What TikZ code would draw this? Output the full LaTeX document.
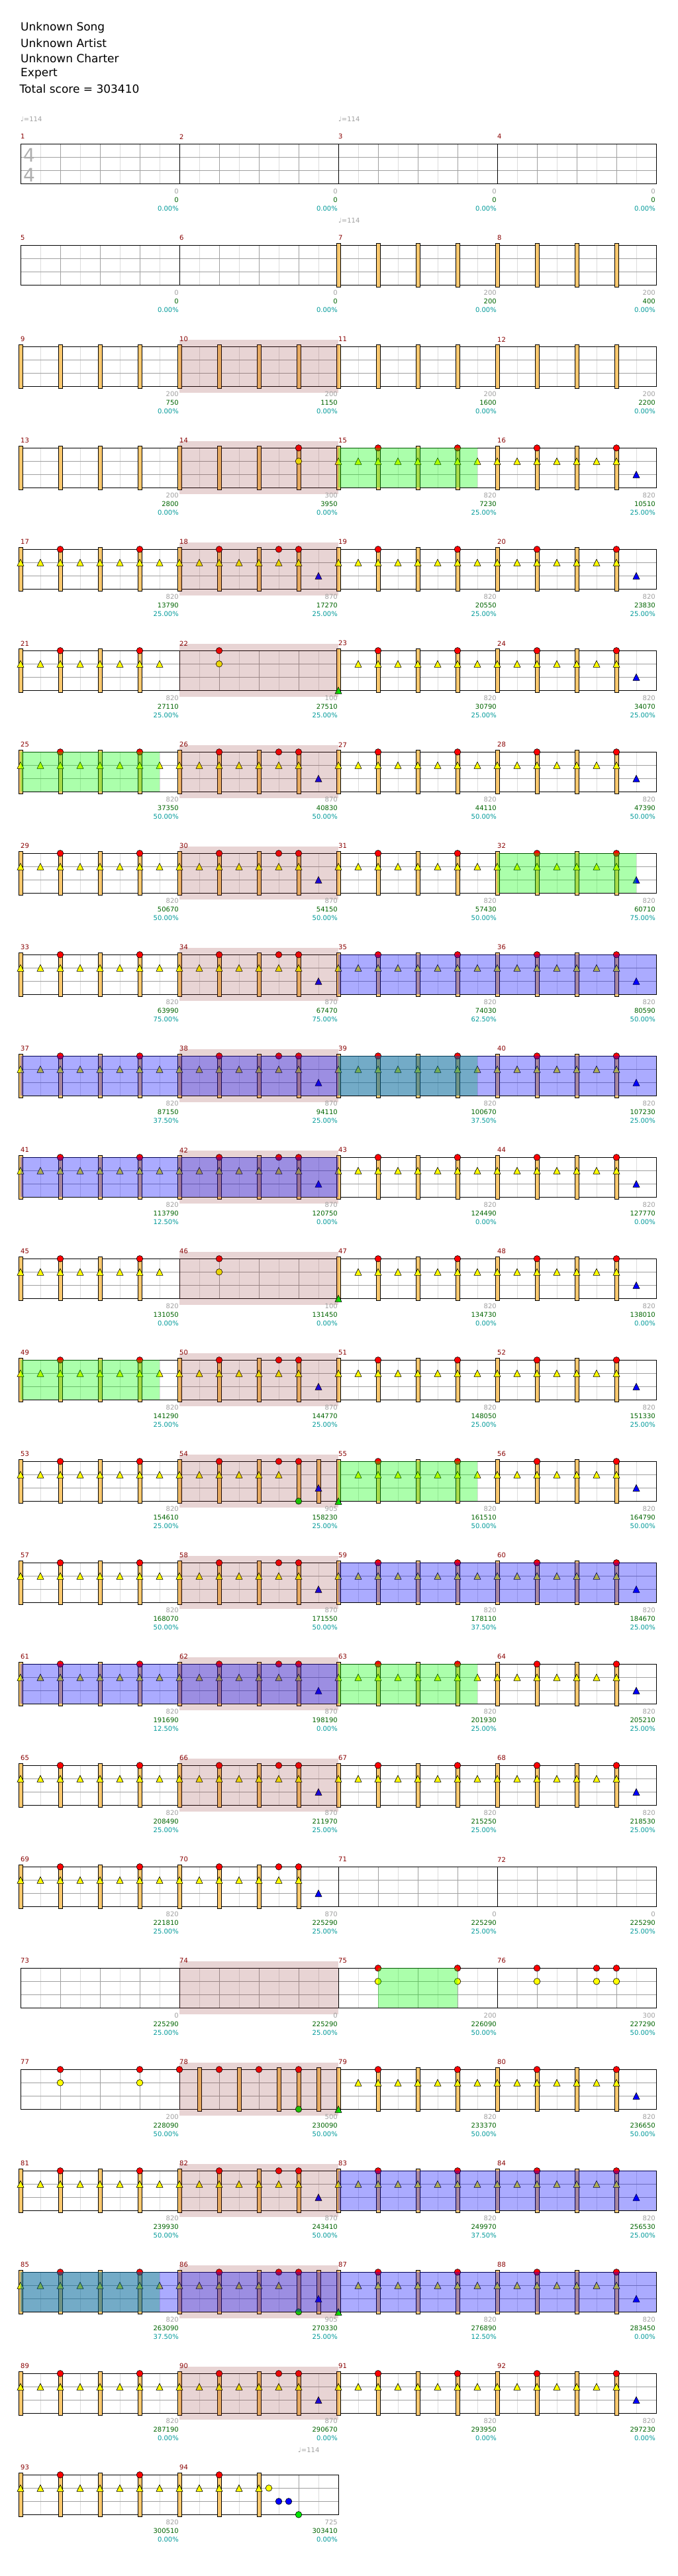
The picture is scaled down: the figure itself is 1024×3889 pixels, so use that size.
\documentclass[tikz,border=0pt]{standalone}
\usepackage{fontspec}
\setmainfont{DejaVu Sans}
\usepackage{tikz}
\usepackage{xcolor}
\definecolor{cmeasure}{RGB}{136,0,0}
\definecolor{cgridlight}{RGB}{220,220,220}
\definecolor{cgrid}{RGB}{160,160,160}
\definecolor{cbar}{RGB}{250,200,110}
\definecolor{cred}{RGB}{255,0,0}
\definecolor{cyellow}{RGB}{255,255,0}
\definecolor{cblue}{RGB}{0,0,255}
\definecolor{cgreen}{RGB}{0,230,0}
\definecolor{cbase}{RGB}{160,160,160}
\definecolor{ctotal}{RGB}{0,100,0}
\definecolor{cpercent}{RGB}{0,153,153}
\definecolor{cfill}{RGB}{140,40,40}
\tikzstyle{eighthline} = [draw=cgridlight, line width=1pt]
\tikzstyle{beatline} = [draw=cgrid, line width=1pt]
\tikzstyle{staffline} = [draw=black, line width=1pt]
\tikzstyle{beatbar} = [fill=cbar, draw=black, line width=0.8pt]
\tikzstyle{hit} = [draw=black, line width=0.6pt]
\tikzstyle{measnum} = [anchor=west, inner sep=0pt, text=cmeasure, font=\fontsize{10}{12}\selectfont]
\tikzstyle{pts} = [anchor=east, inner sep=0pt, font=\fontsize{10}{12}\selectfont]
\tikzstyle{tempo} = [anchor=west, inner sep=0pt, text=cgrid, font=\fontsize{10}{12}\selectfont]
\tikzstyle{header} = [anchor=west, inner sep=0pt, font=\fontsize{17}{20}\selectfont]
\tikzstyle{timesig} = [inner sep=0pt, text=cgrid!85!white, font=\fontsize{28}{30}\selectfont]
\tikzstyle{fillzone} = [fill=cfill, fill opacity=0.2]
\tikzstyle{starzone} = [fill=green, fill opacity=0.33]
\tikzstyle{bonuszone} = [fill=blue, fill opacity=0.33]

% staff of #1 measures, first measure number #2
\newcommand{\staffrow}[2]{%
  \pgfmathtruncatemacro\lastei{8*#1-1}%
  \pgfmathtruncatemacro\lastm{#1-1}%
  \pgfmathsetmacro\staffend{31+240*#1}%
  \foreach \i in {1,...,\lastei} \draw[eighthline] ({31+30*\i},0) -- ++(0,60);
  \foreach \i in {2,4,...,\lastei} \draw[beatline] ({31+30*\i},0) -- ++(0,60);
  \draw[beatline] (31,20) -- (\staffend,20) (31,40) -- (\staffend,40);
  \draw[staffline] (31,0) rectangle (\staffend,60);
  \foreach \j in {1,...,\lastm} \draw[staffline] ({31+240*\j},0) -- ++(0,60);
  \foreach \j in {0,...,\lastm} {\pgfmathtruncatemacro\n{#2+\j}\node[measnum] (m\n) at ({31+240*\j},-11) {\n};}
}
% beat bars, measure #1, eighths #2
\newcommand{\beatbars}[2]{\foreach \i in {#2} \filldraw[beatbar] ({31+240*#1+30*\i-3},-3) rectangle ++(6,66);}
% colour, measure, lane, eighths
\newcommand{\hitgem}[4]{\foreach \i in {#4} \filldraw[hit,fill=#1] ({31+240*#2+30*\i},{20*#3}) circle (4.8pt);}
\newcommand{\hittri}[4]{\foreach \i in {#4} \filldraw[hit,fill=#1] ({31+240*#2+30*\i},{20*#3-5}) -- ++(5,10) -- ++(-10,0) -- cycle;}
\newcommand{\stab}[2]{\hitgem{cred}{#1}{0}{#2}\hitgem{cyellow}{#1}{1}{#2}}
% measure patterns
\newcommand{\groove}[1]{\beatbars{#1}{0,2,4,6}\hittri{cyellow}{#1}{1}{0,...,7}\hitgem{cred}{#1}{0}{2,6}}
\newcommand{\grooveend}[1]{\beatbars{#1}{0,2,4,6}\hittri{cyellow}{#1}{1}{0,...,6}\hitgem{cred}{#1}{0}{2,6}\hittri{cblue}{#1}{2}{7}}
\newcommand{\drumfill}[1]{\beatbars{#1}{0,2,4,6}\hittri{cyellow}{#1}{1}{0,...,6}\hitgem{cred}{#1}{0}{2,5,6}\hittri{cblue}{#1}{2}{7}}
\newcommand{\kickfill}[1]{\beatbars{#1}{0,2,4,6,7}\hittri{cyellow}{#1}{1}{0,...,5}\hitgem{cred}{#1}{0}{2,5,6}\hitgem{cgreen}{#1}{3}{6}\hittri{cblue}{#1}{2}{7}}
\newcommand{\crashin}[1]{\beatbars{#1}{0,2,4,6}\hittri{cgreen}{#1}{3}{0}\hittri{cyellow}{#1}{1}{1,...,7}\hitgem{cred}{#1}{0}{2,6}}
\newcommand{\standard}{\groove{0}\drumfill{1}\groove{2}\grooveend{3}}
% shaded zones
\newcommand{\fillshade}[1]{\fill[fillzone] ({31+240*#1},-10) rectangle ++(240,80);}
\newcommand{\starshade}[3]{\fill[starzone] ({31+240*#1+30*#2},0) rectangle ({31+240*#1+30*#3},60);}
\newcommand{\bonusshade}[2]{\fill[bonuszone] ({31+240*#1},0) rectangle ({31+240*(#2+1)},60);}
% scores under each measure
\newcommand{\rowscores}[2]{\foreach \j/\vbase/\vtot/\vpct in {#2} {%
  \pgfmathtruncatemacro\n{#1+\j}\pgfmathsetmacro\sx{30+240*(\j+1)}%
  \node[pts, text=cbase] (base\n) at (\sx,72) {\vbase};
  \node[pts, text=ctotal] (total\n) at (\sx,85) {\vtot};
  \node[pts, text=cpercent] (pct\n) at (\sx,98) {\vpct\%};}}

\begin{document}
\begin{tikzpicture}[x=1pt, y=-1pt]
\useasboundingbox (0,0) rectangle (1024,3889);
% Chart header
\node[header] (song) at (31,42.3) {Unknown Song};
\node[header] (artist) at (31,65) {Unknown Artist};
\node[header] (charter) at (31,88) {Unknown Charter};
\node[header] (level) at (31,111) {Expert};
\node[header] (total) at (29.5,134.3) {Total score = 303410};

% Measures 1-4
\begin{scope}[shift={(0,217.3)}]
\staffrow{4}{1}
\node[timesig] (sigtop) at (44,17) {4};
\node[timesig] (sigbot) at (44,47) {4};
\node[tempo] (bpm1) at (31,-37) {♩=114};
\node[tempo] (bpm3) at (511,-37) {♩=114};
\rowscores{1}{0/0/0/0.00,1/0/0/0.00,2/0/0/0.00,3/0/0/0.00}
\end{scope}

% Measures 5-8
\begin{scope}[shift={(0,370.3)}]
\staffrow{4}{5}
\node[tempo] (bpm7) at (511,-37) {♩=114};
\beatbars{2}{0,2,4,6}\beatbars{3}{0,2,4,6}
\rowscores{5}{0/0/0/0.00,1/0/0/0.00,2/200/200/0.00,3/200/400/0.00}
\end{scope}

% Measures 9-12
\begin{scope}[shift={(0,523.3)}]
\staffrow{4}{9}
\foreach \k in {0,...,3} {\beatbars{\k}{0,2,4,6}}
\fillshade{1}
\rowscores{9}{0/200/750/0.00,1/200/1150/0.00,2/200/1600/0.00,3/200/2200/0.00}
\end{scope}

% Measures 13-16
\begin{scope}[shift={(0,676.3)}]
\staffrow{4}{13}
\beatbars{0}{0,2,4,6}\beatbars{1}{0,2,4,6}\stab{1}{6}\groove{2}\grooveend{3}
\fillshade{1}\starshade{2}{0}{7}
\rowscores{13}{0/200/2800/0.00,1/300/3950/0.00,2/820/7230/25.00,3/820/10510/25.00}
\end{scope}

% Measures 17-20
\begin{scope}[shift={(0,829.3)}]
\staffrow{4}{17}
\standard
\fillshade{1}
\rowscores{17}{0/820/13790/25.00,1/870/17270/25.00,2/820/20550/25.00,3/820/23830/25.00}
\end{scope}

% Measures 21-24
\begin{scope}[shift={(0,982.3)}]
\staffrow{4}{21}
\groove{0}\stab{1}{2}\crashin{2}\grooveend{3}
\fillshade{1}
\rowscores{21}{0/820/27110/25.00,1/100/27510/25.00,2/820/30790/25.00,3/820/34070/25.00}
\end{scope}

% Measures 25-28
\begin{scope}[shift={(0,1135.3)}]
\staffrow{4}{25}
\standard
\fillshade{1}\starshade{0}{0}{7}
\rowscores{25}{0/820/37350/50.00,1/870/40830/50.00,2/820/44110/50.00,3/820/47390/50.00}
\end{scope}

% Measures 29-32
\begin{scope}[shift={(0,1288.3)}]
\staffrow{4}{29}
\standard
\fillshade{1}\starshade{3}{0}{7}
\rowscores{29}{0/820/50670/50.00,1/870/54150/50.00,2/820/57430/50.00,3/820/60710/75.00}
\end{scope}

% Measures 33-36
\begin{scope}[shift={(0,1441.3)}]
\staffrow{4}{33}
\standard
\fillshade{1}\bonusshade{2}{3}
\rowscores{33}{0/820/63990/75.00,1/870/67470/75.00,2/820/74030/62.50,3/820/80590/50.00}
\end{scope}

% Measures 37-40
\begin{scope}[shift={(0,1594.3)}]
\staffrow{4}{37}
\standard
\fillshade{1}\starshade{2}{0}{7}\bonusshade{0}{3}
\rowscores{37}{0/820/87150/37.50,1/870/94110/25.00,2/820/100670/37.50,3/820/107230/25.00}
\end{scope}

% Measures 41-44
\begin{scope}[shift={(0,1747.3)}]
\staffrow{4}{41}
\standard
\fillshade{1}\bonusshade{0}{1}
\rowscores{41}{0/820/113790/12.50,1/870/120750/0.00,2/820/124490/0.00,3/820/127770/0.00}
\end{scope}

% Measures 45-48
\begin{scope}[shift={(0,1900.3)}]
\staffrow{4}{45}
\groove{0}\stab{1}{2}\crashin{2}\grooveend{3}
\fillshade{1}
\rowscores{45}{0/820/131050/0.00,1/100/131450/0.00,2/820/134730/0.00,3/820/138010/0.00}
\end{scope}

% Measures 49-52
\begin{scope}[shift={(0,2053.3)}]
\staffrow{4}{49}
\standard
\fillshade{1}\starshade{0}{0}{7}
\rowscores{49}{0/820/141290/25.00,1/870/144770/25.00,2/820/148050/25.00,3/820/151330/25.00}
\end{scope}

% Measures 53-56
\begin{scope}[shift={(0,2206.3)}]
\staffrow{4}{53}
\groove{0}\kickfill{1}\crashin{2}\grooveend{3}
\fillshade{1}\starshade{2}{0}{7}
\rowscores{53}{0/820/154610/25.00,1/905/158230/25.00,2/820/161510/50.00,3/820/164790/50.00}
\end{scope}

% Measures 57-60
\begin{scope}[shift={(0,2359.3)}]
\staffrow{4}{57}
\standard
\fillshade{1}\bonusshade{2}{3}
\rowscores{57}{0/820/168070/50.00,1/870/171550/50.00,2/820/178110/37.50,3/820/184670/25.00}
\end{scope}

% Measures 61-64
\begin{scope}[shift={(0,2512.3)}]
\staffrow{4}{61}
\standard
\fillshade{1}\starshade{2}{0}{7}\bonusshade{0}{1}
\rowscores{61}{0/820/191690/12.50,1/870/198190/0.00,2/820/201930/25.00,3/820/205210/25.00}
\end{scope}

% Measures 65-68
\begin{scope}[shift={(0,2665.3)}]
\staffrow{4}{65}
\standard
\fillshade{1}
\rowscores{65}{0/820/208490/25.00,1/870/211970/25.00,2/820/215250/25.00,3/820/218530/25.00}
\end{scope}

% Measures 69-72
\begin{scope}[shift={(0,2818.3)}]
\staffrow{4}{69}
\groove{0}\drumfill{1}
\rowscores{69}{0/820/221810/25.00,1/870/225290/25.00,2/0/225290/25.00,3/0/225290/25.00}
\end{scope}

% Measures 73-76
\begin{scope}[shift={(0,2971.3)}]
\staffrow{4}{73}
\stab{2}{2,6}\stab{3}{2,5,6}
\fillshade{1}\starshade{2}{2}{6}
\rowscores{73}{0/0/225290/25.00,1/0/225290/25.00,2/200/226090/50.00,3/300/227290/50.00}
\end{scope}

% Measures 77-80
\begin{scope}[shift={(0,3124.3)}]
\staffrow{4}{77}
\stab{0}{2,6}
\beatbars{1}{1,3,5,6,7}\hitgem{cred}{1}{0}{0,2,4,6}\hitgem{cgreen}{1}{3}{6}
\crashin{2}\grooveend{3}
\fillshade{1}
\rowscores{77}{0/200/228090/50.00,1/500/230090/50.00,2/820/233370/50.00,3/820/236650/50.00}
\end{scope}

% Measures 81-84
\begin{scope}[shift={(0,3277.3)}]
\staffrow{4}{81}
\standard
\fillshade{1}\bonusshade{2}{3}
\rowscores{81}{0/820/239930/50.00,1/870/243410/50.00,2/820/249970/37.50,3/820/256530/25.00}
\end{scope}

% Measures 85-88
\begin{scope}[shift={(0,3430.3)}]
\staffrow{4}{85}
\groove{0}\kickfill{1}\crashin{2}\grooveend{3}
\fillshade{1}\starshade{0}{0}{7}\bonusshade{0}{3}
\rowscores{85}{0/820/263090/37.50,1/905/270330/25.00,2/820/276890/12.50,3/820/283450/0.00}
\end{scope}

% Measures 89-92
\begin{scope}[shift={(0,3583.3)}]
\staffrow{4}{89}
\standard
\fillshade{1}
\rowscores{89}{0/820/287190/0.00,1/870/290670/0.00,2/820/293950/0.00,3/820/297230/0.00}
\end{scope}

% Measures 93-94
\begin{scope}[shift={(0,3736.3)}]
\staffrow{2}{93}
\node[tempo] (bpm94) at (450,-37) {♩=114};
\groove{0}
\beatbars{1}{0,2,4}\hittri{cyellow}{1}{1}{0,...,4}\hitgem{cred}{1}{0}{2}
\hitgem{cyellow}{1}{1}{4.5}\hitgem{cblue}{1}{2}{5,5.5}\hitgem{cgreen}{1}{3}{6}
\rowscores{93}{0/820/300510/0.00,1/725/303410/0.00}
\end{scope}
\end{tikzpicture}
\end{document}
